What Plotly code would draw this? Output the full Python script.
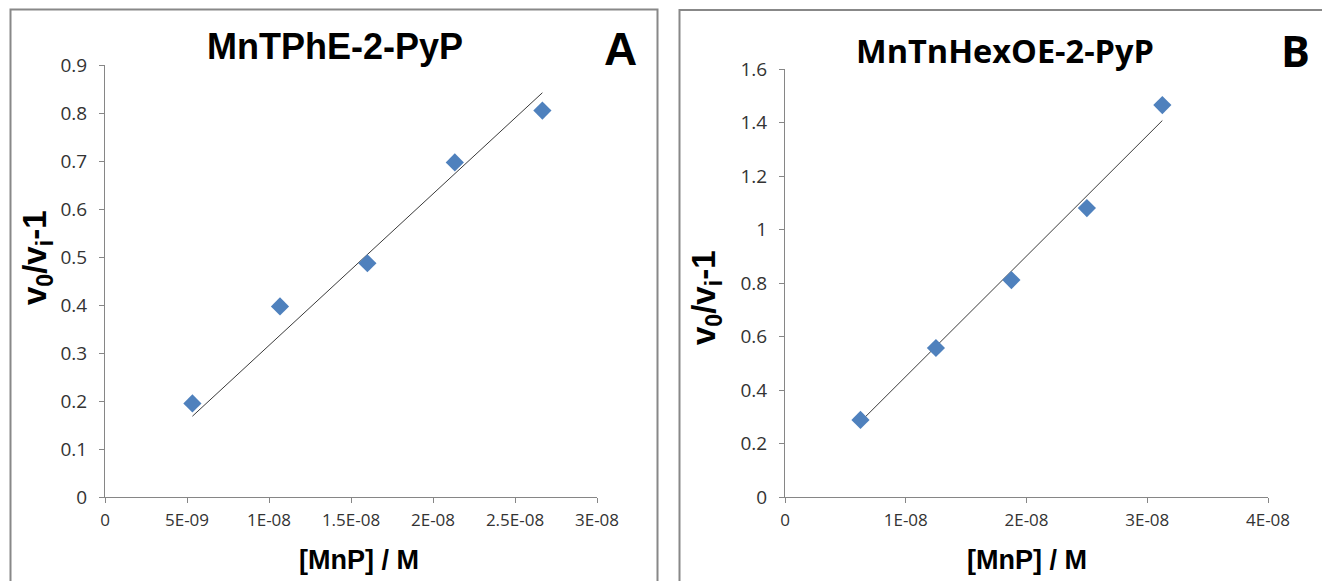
import numpy as np
import plotly.graph_objects as go

W, H = 1322, 581

# Panel A data: MnTPhE-2-PyP
xa = [5.33e-9, 1.067e-8, 1.6e-8, 2.133e-8, 2.667e-8]
ya = [0.195, 0.397, 0.487, 0.697, 0.805]
# Panel B data: MnTnHexOE-2-PyP
xb = [6.25e-9, 1.25e-8, 1.875e-8, 2.5e-8, 3.125e-8]
yb = [0.288, 0.557, 0.811, 1.080, 1.465]

xa_ticks = [0, 5e-9, 1e-8, 1.5e-8, 2e-8, 2.5e-8, 3e-8]
xa_labels = ["0", "5E-09", "1E-08", "1.5E-08", "2E-08", "2.5E-08", "3E-08"]
ya_ticks = [0, 0.1, 0.2, 0.3, 0.4, 0.5, 0.6, 0.7, 0.8, 0.9]
ya_labels = ["0", "0.1", "0.2", "0.3", "0.4", "0.5", "0.6", "0.7", "0.8", "0.9"]
xb_ticks = [0, 1e-8, 2e-8, 3e-8, 4e-8]
xb_labels = ["0", "1E-08", "2E-08", "3E-08", "4E-08"]
yb_ticks = [0, 0.2, 0.4, 0.6, 0.8, 1.0, 1.2, 1.4, 1.6]
yb_labels = ["0", "0.2", "0.4", "0.6", "0.8", "1", "1.2", "1.4", "1.6"]


def origin_fit(x, y):
    x = np.asarray(x); y = np.asarray(y)
    k = (x * y).sum() / (x * x).sum()
    xs = np.array([x.min(), x.max()])
    return xs, k * xs

fig = go.Figure()
MARK = dict(symbol="diamond", size=14, color="#4F81BD")
LINE = dict(color="#3a3a3a", width=1)

fxa, fya = origin_fit(xa, ya)
fxb, fyb = origin_fit(xb, yb)
fig.add_trace(go.Scatter(x=fxa, y=fya, mode="lines", line=LINE, xaxis="x", yaxis="y", showlegend=False))
fig.add_trace(go.Scatter(x=xa, y=ya, mode="markers", marker=MARK, xaxis="x", yaxis="y", showlegend=False))
fig.add_trace(go.Scatter(x=fxb, y=fyb, mode="lines", line=LINE, xaxis="x2", yaxis="y2", showlegend=False))
fig.add_trace(go.Scatter(x=xb, y=yb, mode="markers", marker=MARK, xaxis="x2", yaxis="y2", showlegend=False))

XTICKFONT = dict(family="Open Sans", size=17, color="#333333")
YTICKFONT = dict(family="Open Sans", size=19, color="#333333")
common = dict(showgrid=False, zeroline=False, showline=True, linecolor="#868686", linewidth=1,
              ticks="outside", ticklen=5, tickcolor="#868686", tickmode="array", automargin=False)

def px(xp):
    return xp / W

def py(yp):
    return (H - yp) / H

fig.update_layout(
    template="none",
    font=dict(family="Open Sans", size=17, color="#333333"),
    width=W, height=H, margin=dict(l=0, r=0, t=0, b=0, pad=0, autoexpand=False),
    paper_bgcolor="white", plot_bgcolor="white",
    xaxis=dict(domain=[px(105), px(597)], range=[0, 3e-8], tickvals=xa_ticks, ticktext=xa_labels,
               anchor="y", tickfont=XTICKFONT, ticklabelstandoff=3, **common),
    yaxis=dict(domain=[py(497), py(65)], range=[0, 0.9], tickvals=ya_ticks, ticktext=ya_labels,
               anchor="x", tickfont=YTICKFONT, ticklabelstandoff=8, **common),
    xaxis2=dict(domain=[px(785), px(1268)], range=[0, 4e-8], tickvals=xb_ticks, ticktext=xb_labels,
                anchor="y2", tickfont=XTICKFONT, ticklabelstandoff=3, **common),
    yaxis2=dict(domain=[py(497), py(69)], range=[0, 1.6], tickvals=yb_ticks, ticktext=yb_labels,
                anchor="x2", tickfont=YTICKFONT, ticklabelstandoff=8, **common),
)

BORDER = dict(color="#888888", width=2)
fig.add_shape(type="rect", xref="paper", yref="paper", x0=px(10.5), x1=px(657.5), y0=-0.2, y1=py(9.5), line=BORDER)
fig.add_shape(type="rect", xref="paper", yref="paper", x0=px(679.5), x1=1.2, y0=-0.2, y1=py(10), line=BORDER)

ARIAL_B = "Liberation Sans"
def A(text, x, y, size, family, angle=0, color="black"):
    fig.add_annotation(text=text, x=px(x), y=py(y), xref="paper", yref="paper", showarrow=False,
                       font=dict(family=family, size=size, color=color), textangle=angle,
                       xanchor="center", yanchor="middle")

A("<b>MnTPhE-2-PyP</b>", 335, 47, 36, ARIAL_B)
A("<b>A</b>", 620, 49, 46, ARIAL_B)
A("<b>MnTnHexOE-2-PyP</b>", 1005, 50, 32.5, "Open Sans")
A("<b>B</b>", 1295, 50, 43, "Open Sans")
A("<b>[MnP] / M</b>", 359, 560, 27, ARIAL_B)
A("<b>[MnP] / M</b>", 1027, 560, 27, ARIAL_B)
A("<b>v<sub>0</sub>/v<sub>i</sub>-1</b>", 37, 258, 33, ARIAL_B, angle=-90)
A("<b>v<sub>0</sub>/v<sub>i</sub>-1</b>", 706, 298, 33, ARIAL_B, angle=-90)

fig.write_html("out.html", post_script="document.body.style.margin='0';document.body.style.overflow='hidden';")
